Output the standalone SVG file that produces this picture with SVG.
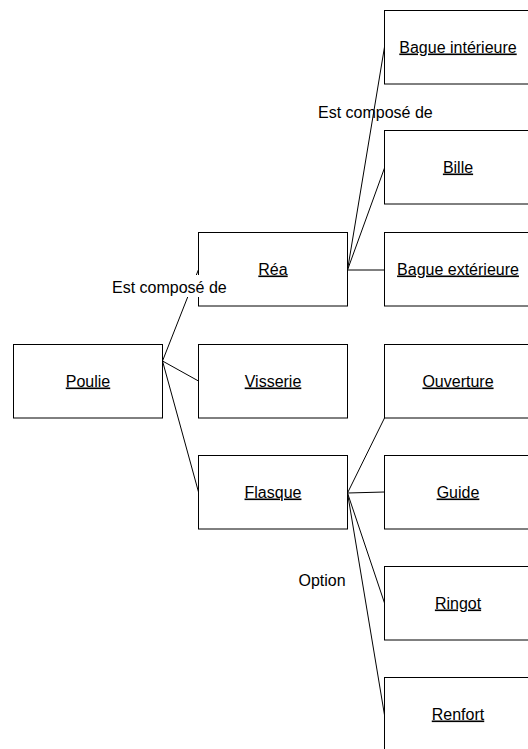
<svg xmlns="http://www.w3.org/2000/svg" width="528" height="749" viewBox="0 0 528 749">
<style>
.box{fill:#fff;stroke:#000;stroke-width:1}
.lbl{font-family:"Liberation Sans",Arial,sans-serif;font-size:16px;fill:#000;text-anchor:middle;text-decoration:underline}
.elbl{font-family:"Liberation Sans",Arial,sans-serif;font-size:16px;fill:#000}
.con{stroke:#000;stroke-width:1;fill:none}
</style>
<rect width="528" height="749" fill="#fff"/>
<g id="connectors">
<line class="con" x1="162.5" y1="361" x2="198.5" y2="269.5"/>
<line class="con" x1="162.5" y1="361" x2="198.5" y2="381"/>
<line class="con" x1="162.5" y1="361" x2="198.5" y2="492"/>
<line class="con" x1="347.5" y1="493" x2="384.5" y2="418"/>
<line class="con" x1="347.5" y1="493" x2="384.5" y2="492"/>
<line class="con" x1="347.5" y1="493" x2="384.5" y2="603"/>
<line class="con" x1="347.5" y1="493" x2="384.5" y2="715"/>
<text class="elbl" x="318" y="118">Est composé de</text>
<line class="con" x1="347.5" y1="270" x2="384.5" y2="47"/>
<line class="con" x1="347.5" y1="270" x2="384.5" y2="168"/>
<line class="con" x1="347.5" y1="270" x2="384.5" y2="270"/>
<text class="elbl" x="298.5" y="586">Option</text>
</g>
<g id="poulie"><rect class="box" x="13.5" y="344.5" width="149" height="73.5"/><text class="lbl" x="88" y="386.5">Poulie</text></g>
<g id="rea"><rect class="box" x="198.5" y="232.5" width="149" height="73.5"/><text class="lbl" x="273" y="274.5">Réa</text></g>
<g id="visserie"><rect class="box" x="198.5" y="344.5" width="149" height="73.5"/><text class="lbl" x="273" y="386.5">Visserie</text></g>
<g id="flasque"><rect class="box" x="198.5" y="455.5" width="149" height="73.5"/><text class="lbl" x="273" y="497.5">Flasque</text></g>
<g id="bague-interieure"><rect class="box" x="384.5" y="10.5" width="148" height="73.5"/><text class="lbl" x="458" y="52.5">Bague intérieure</text></g>
<g id="bille"><rect class="box" x="384.5" y="130.5" width="148" height="73.5"/><text class="lbl" x="458" y="172.5">Bille</text></g>
<g id="bague-exterieure"><rect class="box" x="384.5" y="232.5" width="148" height="73.5"/><text class="lbl" x="458" y="274.5">Bague extérieure</text></g>
<g id="ouverture"><rect class="box" x="384.5" y="344.5" width="148" height="73.5"/><text class="lbl" x="458" y="386.5">Ouverture</text></g>
<g id="guide"><rect class="box" x="384.5" y="455.5" width="148" height="73.5"/><text class="lbl" x="458" y="497.5">Guide</text></g>
<g id="ringot"><rect class="box" x="384.5" y="566.5" width="148" height="73.5"/><text class="lbl" x="458" y="608.5">Ringot</text></g>
<g id="renfort"><rect class="box" x="384.5" y="677.5" width="148" height="73.5"/><text class="lbl" x="458" y="719.5">Renfort</text></g>
<g id="label-poulie-rea">
<rect x="112" y="275" width="116" height="22" fill="#fff"/>
<text class="elbl" x="112" y="293">Est composé de</text>
</g>
</svg>
